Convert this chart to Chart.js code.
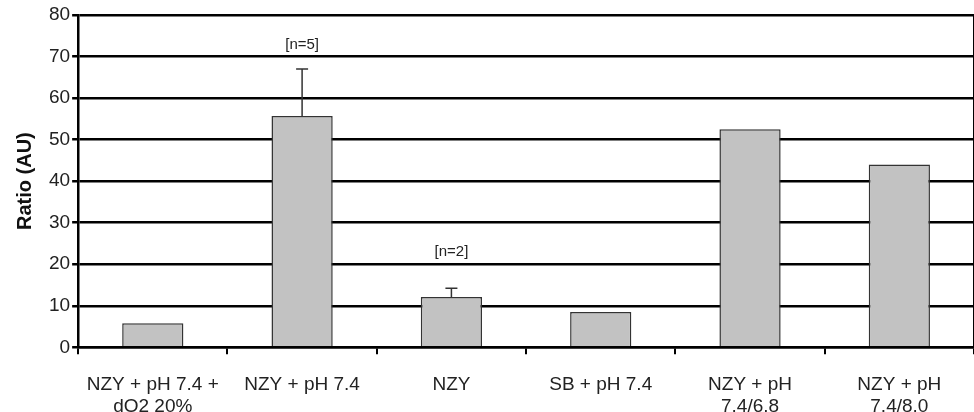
<!DOCTYPE html>
<html>
<head>
<meta charset="utf-8">
<script src="https://cdn.jsdelivr.net/npm/chart.js@4/dist/chart.umd.min.js"></script>
<style>
html,body{margin:0;padding:0;background:#fff;}
#wrap{width:974px;height:412px;position:relative;}
</style>
</head>
<body>
<div id="wrap"><canvas id="c" width="974" height="412"></canvas></div>
<script>
const categories = [
  ["NZY + pH 7.4 +", "dO2 20%"],
  ["NZY + pH 7.4"],
  ["NZY"],
  ["SB + pH 7.4"],
  ["NZY + pH", "7.4/6.8"],
  ["NZY + pH", "7.4/8.0"]
];
const ratioValues = [5.8, 55.7, 12.1, 8.5, 52.5, 44.0];
const errorUpper = [null, 11.3, 2.1, null, null, null];
const nLabels = [null, "[n=5]", "[n=2]", null, null, null];
const nLabelValues = [null, 72.8, 22.9, null, null, null];
const yTicks = [0, 10, 20, 30, 40, 50, 60, 70, 80];

const FONT = "'Liberation Sans', Arial, sans-serif";

const errorPlugin = {
  id: 'errorBars',
  afterDatasetsDraw(chart) {
    const ctx = chart.ctx;
    const xs = chart.scales.x, ys = chart.scales.y;
    ctx.save();
    ctx.strokeStyle = '#333';
    ctx.lineWidth = 1.5;
    errorUpper.forEach((e, i) => {
      if (e == null) return;
      const x = xs.getPixelForValue(i);
      const y0 = ys.getPixelForValue(ratioValues[i]);
      const y1 = ys.getPixelForValue(ratioValues[i] + e);
      ctx.beginPath();
      ctx.moveTo(x, y0); ctx.lineTo(x, y1);
      ctx.moveTo(x - 6, y1); ctx.lineTo(x + 6, y1);
      ctx.stroke();
    });
    ctx.fillStyle = '#222';
    ctx.font = "15px " + FONT;
    ctx.textAlign = 'center';
    ctx.textBaseline = 'middle';
    nLabels.forEach((t, i) => {
      if (!t) return;
      ctx.fillText(t, xs.getPixelForValue(i), ys.getPixelForValue(nLabelValues[i]));
    });
    ctx.restore();
  }
};

new Chart(document.getElementById('c'), {
  type: 'bar',
  data: {
    labels: categories,
    datasets: [{
      data: ratioValues,
      backgroundColor: '#c2c2c2',
      borderColor: '#333',
      borderWidth: 1.5,
      categoryPercentage: 0.82,
      barPercentage: 0.5
    }]
  },
  options: {
    responsive: false,
    animation: false,
    layout: { padding: { left: 13, right: 0, top: 15, bottom: -26 } },
    plugins: { legend: { display: false }, tooltip: { enabled: false } },
    scales: {
      x: {
        offset: true,
        grid: { offset: true, drawOnChartArea: false, drawTicks: true, tickLength: 7, color: '#000', lineWidth: 2 },
        border: { color: '#000', width: 2.5 },
        ticks: { color: '#222', font: { family: FONT, size: 19, lineHeight: 1.15 }, padding: 20, maxRotation: 0, autoSkip: false }
      },
      y: {
        min: 0, max: 80,
        afterBuildTicks(axis) { axis.ticks = yTicks.map(v => ({ value: v })); },
        grid: { color: '#000', lineWidth: 2.5, tickLength: 6 },
        border: { color: '#000', width: 2.5 },
        ticks: { color: '#222', font: { family: FONT, size: 19 }, padding: 2 },
        title: { display: true, text: 'Ratio (AU)', color: '#111', font: { family: FONT, size: 20, weight: 'bold' }, padding: { top: 0, bottom: 10 } }
      },
      y2: {
        position: 'right',
        min: 0, max: 80,
        grid: { drawOnChartArea: false, drawTicks: false },
        border: { color: '#000', width: 2 },
        ticks: { display: false }
      }
    }
  },
  plugins: [errorPlugin]
});
</script>
</body>
</html>
